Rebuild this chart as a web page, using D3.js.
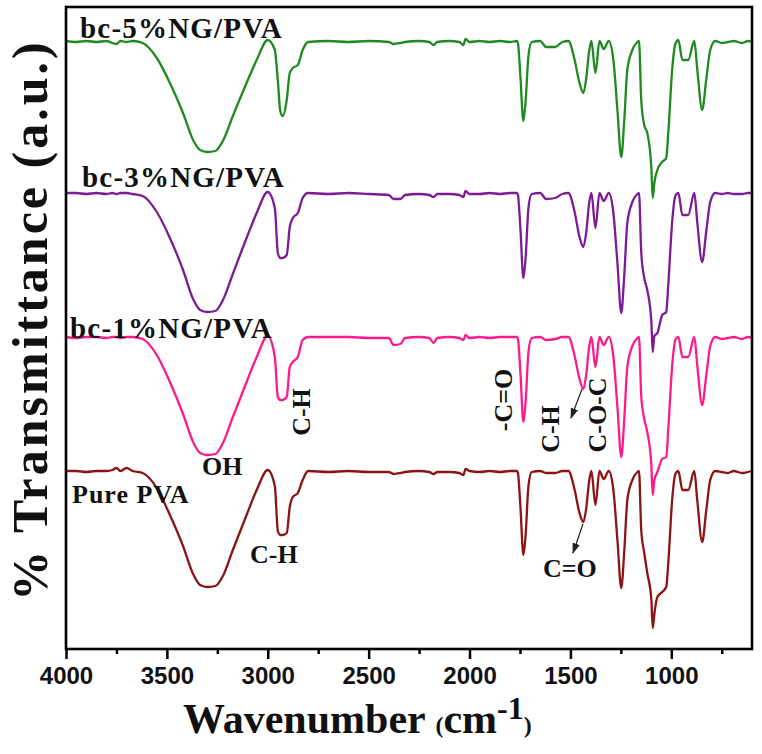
<!DOCTYPE html>
<html>
<head>
<meta charset="utf-8">
<script src="https://cdn.jsdelivr.net/npm/d3@7/dist/d3.min.js"></script>
<style>
  html, body { margin: 0; padding: 0; background: #fff; }
  svg { display: block; }
</style>
</head>
<body>
<svg id="chart" width="762" height="754"></svg>
<script>
// Wavenumbers (cm-1) of the sampled points
const wavenumbers = [4000,3950,3900,3850,3800,3770,3750,3730,3700,3670,3620,3550,3485,3420,3370,3335,3300,3260,3220,3175,3105,3055,3000,2965,2950,2938,2926,2906,2891,2876,2851,2827,2800,2700,2600,2500,2400,2376,2342,2320,2250,2200,2178,2160,2100,2050,2030,2020,2000,1950,1900,1850,1800,1765,1760,1748,1733,1722,1708,1692,1650,1620,1575,1540,1510,1480,1455,1436,1422,1407,1396,1376,1356,1335,1310,1287,1267,1248,1233,1218,1193,1168,1160,1149,1134,1119,1099,1092,1084,1069,1045,1025,1015,995,980,965,945,916,886,871,847,827,807,782,750,720,690,650,620,600];

// Transmittance (a.u., stacked)
const ng5 = [608,607,608,607,608,606,605,608,607,608,606,591,566,536,509,499,497,498,509,532,566,589,609,599,568,538,533,549,576,581,584,599,607,608,607,608,607,605,606,607,608,607,604,607,608,607,604,610,607,608,607,608,607,608,606,573,528,548,593,607,608,602,602,607,608,590,566,556,570,598,608,576,608,600,608,589,539,492,529,579,599,607,608,549,524,516,482,451,466,479,487,491,516,581,605,609,589,589,608,579,539,569,599,608,606,607,608,606,608,607];
const ng3 = [456,456,455,456,455,456,455,456,456,455,453,437,411,379,350,339,337,338,350,374,411,436,457,441,396,391,391,394,422,431,436,451,456,455,456,455,454,450,450,454,455,454,452,455,455,454,452,458,455,455,456,455,456,456,454,421,371,391,441,455,456,450,451,455,456,438,412,402,416,446,456,421,456,448,456,436,386,336,374,426,447,455,456,397,371,359,328,297,313,316,334,337,364,429,453,456,434,434,456,426,387,417,447,456,455,456,455,455,456,456];
const ng1 = [312,311,312,312,311,312,312,311,312,312,310,294,267,235,207,196,194,195,207,231,267,292,313,292,252,249,249,252,282,287,292,309,312,312,312,311,311,304,305,311,312,311,306,311,312,311,309,314,311,312,311,312,312,312,310,277,227,247,297,311,312,309,310,312,312,294,270,260,274,302,312,282,312,304,312,292,242,192,230,282,303,311,312,253,230,217,184,154,169,177,190,192,220,285,309,312,292,292,312,283,244,273,303,312,310,311,312,310,312,311];
const pva = [178,178,177,178,178,179,181,178,181,178,176,161,134,103,75,64,62,63,74,98,134,159,179,163,118,114,114,116,142,152,156,169,178,177,178,177,177,175,176,177,178,177,175,177,177,176,174,180,178,177,178,177,178,178,176,143,94,114,163,177,178,176,176,178,178,160,136,127,140,168,178,144,178,170,178,159,109,61,98,149,169,177,178,119,96,76,50,21,35,52,57,62,86,151,175,178,159,159,178,148,107,138,169,178,177,176,178,176,177,178];

const seriesNames = ["bc-5%NG/PVA","bc-3%NG/PVA","bc-1%NG/PVA","Pure PVA"];
const seriesColors = ["#1f8a1f","#7d1a95","#ff1a8c","#8b1414"];
const seriesValues = [ng5, ng3, ng1, pva];

const xTicks = [4000,3500,3000,2500,2000,1500,1000];
const xMinorTicks = [3750,3250,2750,2250,1750,1250,750];

const W = 762, H = 754;
const margin = {left: 66, top: 7, right: 10, bottom: 105};
const iw = W - margin.left - margin.right;
const ih = H - margin.top - margin.bottom;

const svg = d3.select("#chart");
const g = svg.append("g").attr("transform", `translate(${margin.left},${margin.top})`);

const x = d3.scaleLinear().domain([4000, 600]).range([0, iw]);
const y = d3.scaleLinear().domain([0, 642]).range([ih, 0]);

const line = d3.line()
  .x(d => x(d[0]))
  .y(d => y(d[1]))
  .curve(d3.curveMonotoneX);

seriesValues.forEach((vals, i) => {
  const pts = wavenumbers.map((w, j) => [w, vals[j]]);
  g.append("path")
    .datum(pts)
    .attr("fill", "none")
    .attr("stroke", seriesColors[i])
    .attr("stroke-width", 2.3)
    .attr("stroke-linejoin", "round")
    .attr("d", line);
});

// axes
const xAxis = g.append("g")
  .attr("transform", `translate(0,${ih})`)
  .call(d3.axisBottom(x).tickValues(xTicks).tickSize(10).tickPadding(8).tickFormat(d3.format("d")));
xAxis.select(".domain").remove();
xAxis.selectAll(".tick line").attr("stroke", "#000").attr("stroke-width", 2.5);
xAxis.selectAll(".tick text")
  .attr("font-family", "'Liberation Sans', Arial, sans-serif")
  .attr("font-weight", "bold")
  .attr("font-size", 24)
  .attr("fill", "#111");

const xMinor = g.append("g")
  .attr("transform", `translate(0,${ih})`)
  .call(d3.axisBottom(x).tickValues(xMinorTicks).tickSize(5).tickFormat(""));
xMinor.select(".domain").remove();
xMinor.selectAll(".tick line").attr("stroke", "#000").attr("stroke-width", 2.5);

// frame
g.append("rect")
  .attr("x", 0).attr("y", 0).attr("width", iw).attr("height", ih)
  .attr("fill", "none").attr("stroke", "#000").attr("stroke-width", 2.6);

const serif = "'Liberation Serif', 'Times New Roman', serif";

function label(txt, px, py, size, opts = {}) {
  const t = svg.append("text")
    .attr("x", px).attr("y", py)
    .attr("font-family", serif)
    .attr("font-weight", "bold")
    .attr("font-size", size)
    .attr("fill", "#111")
    .text(txt);
  if (opts.ls) t.attr("letter-spacing", opts.ls);
  if (opts.rotate) {
    t.attr("text-anchor", "middle").attr("dominant-baseline", "central")
     .attr("transform", `rotate(-90,${px},${py})`);
  }
  return t;
}

// series labels
label(seriesNames[0], 80, 38, 29, {ls: 1.2});
label(seriesNames[1], 82, 187, 29, {ls: 1.2});
label(seriesNames[2], 70, 338, 29, {ls: 1.2});
label(seriesNames[3], 72, 503, 26, {ls: 1});

// peak annotations
label("OH", 202, 475, 26);
label("C-H", 250, 563, 26);
label("C=O", 543, 577, 26);
label("C-H", 301, 412, 26, {rotate: true});
label("-C=O", 503, 400, 26, {rotate: true});
label("C-H", 550, 429, 26, {rotate: true});
label("C-O-C", 597, 415, 26, {rotate: true});

// arrows
const defs = svg.append("defs");
defs.append("marker")
  .attr("id", "ah").attr("viewBox", "0 0 10 10")
  .attr("refX", 9).attr("refY", 5)
  .attr("markerWidth", 9).attr("markerHeight", 9)
  .attr("orient", "auto-start-reverse")
  .append("path").attr("d", "M0,1.5 L10,5 L0,8.5 Z").attr("fill", "#222");
svg.append("line").attr("x1", 582).attr("y1", 389).attr("x2", 571).attr("y2", 418)
  .attr("stroke", "#222").attr("stroke-width", 1.2).attr("marker-end", "url(#ah)");
svg.append("line").attr("x1", 583).attr("y1", 524).attr("x2", 573).attr("y2", 553)
  .attr("stroke", "#222").attr("stroke-width", 1.2).attr("marker-end", "url(#ah)");

// axis titles
const xt = svg.append("text")
  .attr("x", 183).attr("y", 733)
  .attr("font-family", serif).attr("font-weight", "bold").attr("fill", "#111");
xt.append("tspan").attr("font-size", 42).text("Wavenumber ");
xt.append("tspan").attr("font-size", 24).text("(");
xt.append("tspan").attr("font-size", 42).text("cm");
xt.append("tspan").attr("font-size", 32).attr("dy", -14).text("-1");
xt.append("tspan").attr("font-size", 24).attr("dy", 14).text(")");

svg.append("text")
  .attr("transform", "translate(30,320) rotate(-90)")
  .attr("text-anchor", "middle")
  .attr("dominant-baseline", "central")
  .attr("font-family", serif).attr("font-weight", "bold")
  .attr("font-size", 50).attr("letter-spacing", 3)
  .attr("fill", "#111")
  .text("% Transmittance (a.u.)");
</script>
</body>
</html>
